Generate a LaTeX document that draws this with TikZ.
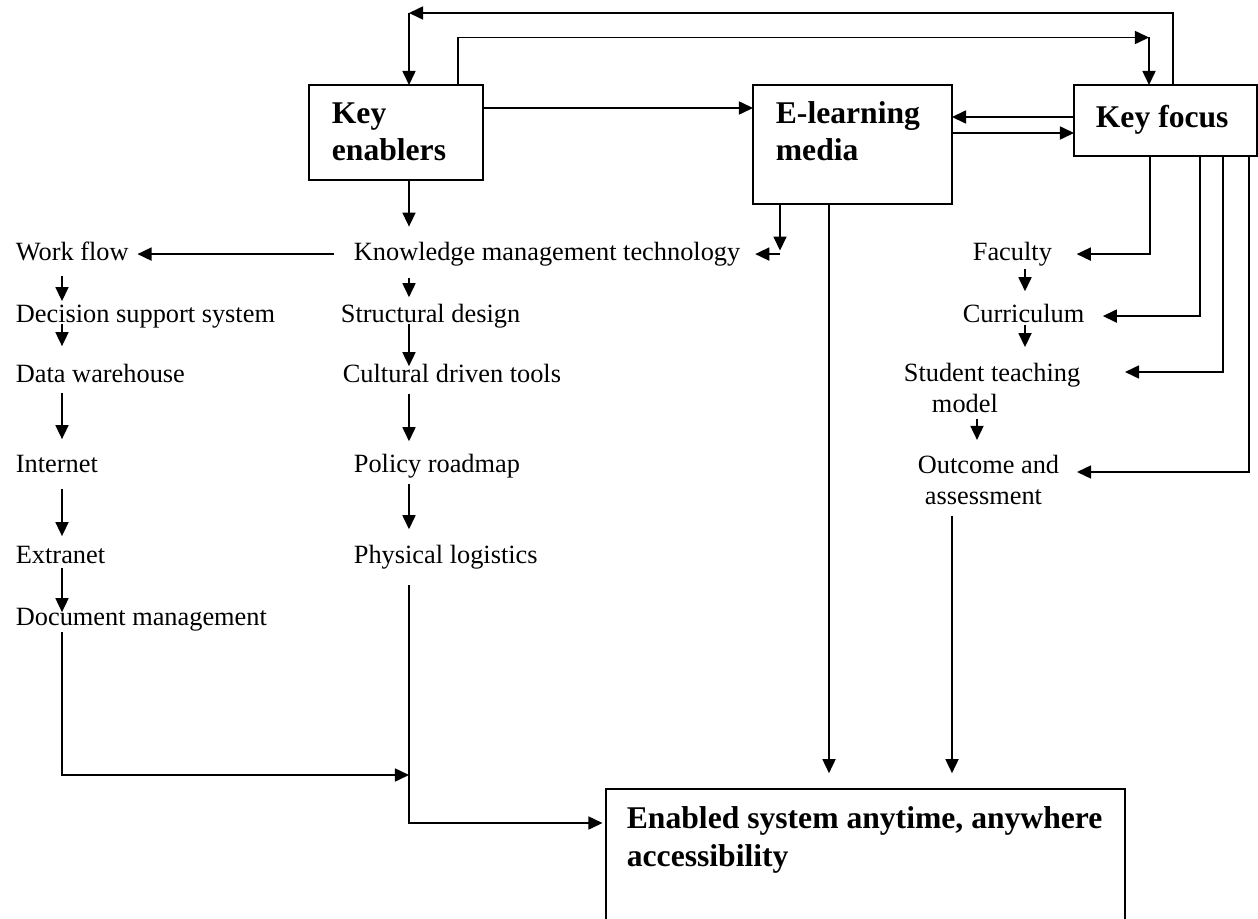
\documentclass[tikz,border=0pt]{standalone}
\usepackage{fontspec}
\setmainfont{Liberation Serif}
\usetikzlibrary{arrows.meta}
\begin{document}
\begin{tikzpicture}[>={Triangle[length=8pt,width=7.4pt]},line width=1pt,x=0.02cm,y=-0.02cm,
  box/.style={draw,rectangle,inner sep=0pt,outer sep=0pt,anchor=north west},
  hd/.style={anchor=north west,inner sep=0pt,align=left,font=\fontsize{18}{21}\selectfont\bfseries},
  lbl/.style={anchor=base west,inner sep=0pt,text height=10.5pt,text depth=3.75pt,font=\fontsize{15}{18}\selectfont},
  lbltwo/.style={anchor=north west,inner sep=0pt,align=left,font=\fontsize{15}{18}\selectfont}]
\useasboundingbox (0,0) rectangle (1258,919);
\clip (0,0) rectangle (1258,919);
\node[box,minimum width=3.48cm,minimum height=1.9cm] (ke) at (309,85) {};
\node[hd] (keT) at (331,102) {Key\\enablers};
\node[box,minimum width=3.98cm,minimum height=2.38cm] (elm) at (753,85) {};
\node[hd] (elmT) at (775,101) {E-learning\\media};
\node[box,minimum width=3.66cm,minimum height=1.42cm] (kf) at (1074,85) {};
\node[hd] (kfT) at (1095,104) {Key focus};
\node[box,minimum width=10.38cm,minimum height=4cm] (esa) at (606,789) {};
\node[hd,font=\fontsize{18}{21.5}\selectfont\bfseries] (esaT) at (626,806) {Enabled system anytime, anywhere\\accessibility};
\node[lbl] (kmt) at (353,260) {Knowledge management technology};
\node[lbl] (sd) at (340,322) {Structural design};
\node[lbl] (cdt) at (342,382) {Cultural driven tools};
\node[lbl] (pr) at (353,472) {Policy roadmap};
\node[lbl] (pl) at (353,563) {Physical logistics};
\node[lbl] (wf) at (15,260) {Work flow};
\node[lbl] (dss) at (15,322) {Decision support system};
\node[lbl] (dw) at (15,382) {Data warehouse};
\node[lbl] (inet) at (15,472) {Internet};
\node[lbl] (enet) at (15,563) {Extranet};
\node[lbl] (dm) at (15,625) {Document management};
\node[lbl] (fac) at (972,260) {Faculty};
\node[lbl] (cur) at (962,322) {Curriculum};
\node[lbltwo] (stm) at (903,362) {Student teaching\\\hspace*{16pt}model};
\node[lbltwo] (oa) at (917,454) {Outcome and\\\hspace*{4pt}assessment};
\coordinate (lc) at (62,0);
\coordinate (mc) at (409,0);
\coordinate (rc) at (1025,0);
\coordinate (rcb) at (977,0);
\coordinate (elc) at (780,0);
\coordinate (elb) at (829,0);
\coordinate (oac) at (952,0);
\coordinate (kfa) at (1150,0);
\coordinate (kfb) at (1200,0);
\coordinate (kfc) at (1223,0);
\coordinate (kfd) at (1249,0);
\coordinate (ya) at (0,108);
\coordinate (yb) at (0,117);
\coordinate (yc) at (0,133);
\coordinate (ye) at (0,823);
\coordinate (la) at (409,13);
\coordinate (lb) at (1173,13);
\coordinate (lcc) at (458,37.5);
\coordinate (ld) at (1149,37.5);
\coordinate (stin) at (1125,372);
\coordinate (oain) at (1077,472);
\coordinate (jn) at (409,775);
\draw[->] (kf.north -| lb) -- (lb) -- (la);
\draw[->] (la) -- (ke.north -| la);
\draw[->] (ke.north -| lcc) -- (lcc) -- (ld);
\draw[->] (ld) -- (kf.north -| ld);
\draw[->] (ke.east |- ya) -- (elm.west |- ya);
\draw[->] (kf.west |- yb) -- (elm.east |- yb);
\draw[->] (elm.east |- yc) -- (kf.west |- yc);
\draw[->,shorten >=8pt] (ke.south -| mc) -- (kmt.north -| mc);
\draw[->,shorten <=5.9pt,shorten >=3.1pt] (kmt.south -| mc) -- (sd.north -| mc);
\draw[->,shorten <=-3.2pt,shorten >=-2pt] (sd.south -| mc) -- (cdt.north -| mc);
\draw[->,shorten <=2.5pt,shorten >=6.5pt] (cdt.south -| mc) -- (pr.north -| mc);
\draw[->,shorten <=2.5pt,shorten >=8.2pt] (pr.south -| mc) -- (pl.north -| mc);
\draw[->,shorten <=11pt,shorten >=4.5pt] (kmt.west) -- (wf.east |- kmt.west);
\draw[->,shorten >=2pt] (elm.south -| elc) -- (elc |- kmt.east);
\draw[->,shorten >=8pt] (elc |- kmt.east) -- (kmt.east);
\draw[->,shorten <=4.8pt,shorten >=0.9pt] (wf.south -| lc) -- (dss.north -| lc);
\draw[->,shorten <=-3.2pt,shorten >=9.4pt] (dss.south -| lc) -- (dw.north -| lc);
\draw[->,shorten <=1.9pt,shorten >=7.7pt] (dw.south -| lc) -- (inet.north -| lc);
\draw[->,shorten <=5.3pt,shorten >=4.3pt] (inet.south -| lc) -- (enet.north -| lc);
\draw[->,shorten <=-1.5pt,shorten >=-3.7pt] (enet.south -| lc) -- (dm.north -| lc);
\draw[->,shorten >=13.6pt] (kf.south -| kfa) |- (fac.east);
\draw[->,shorten >=10pt] (kf.south -| kfb) |- (cur.east);
\draw[->] (kf.south -| kfc) |- (stin);
\draw[->] (kf.south -| kfd) |- (oain);
\draw[->,shorten <=0.8pt,shorten >=6.5pt] (fac.south -| rc) -- (cur.north -| rc);
\draw[->,shorten <=-2.6pt,shorten >=8.5pt] (cur.south -| rc) -- (stm.north -| rc);
\draw[->,shorten <=2.8pt,shorten >=8pt] (stm.south -| rcb) -- (oa.north -| rcb);
\draw[->,shorten <=5.7pt,shorten >=9pt] (oa.south -| oac) -- (esa.north -| oac);
\draw[->,shorten >=9pt] (elm.south -| elb) -- (esa.north -| elb);
\draw[->] (dm.south -| lc) |- (jn);
\draw[->,shorten <=8.5pt,shorten >=2pt] (pl.south -| mc) |- (esa.west |- ye);
\end{tikzpicture}
\end{document}
